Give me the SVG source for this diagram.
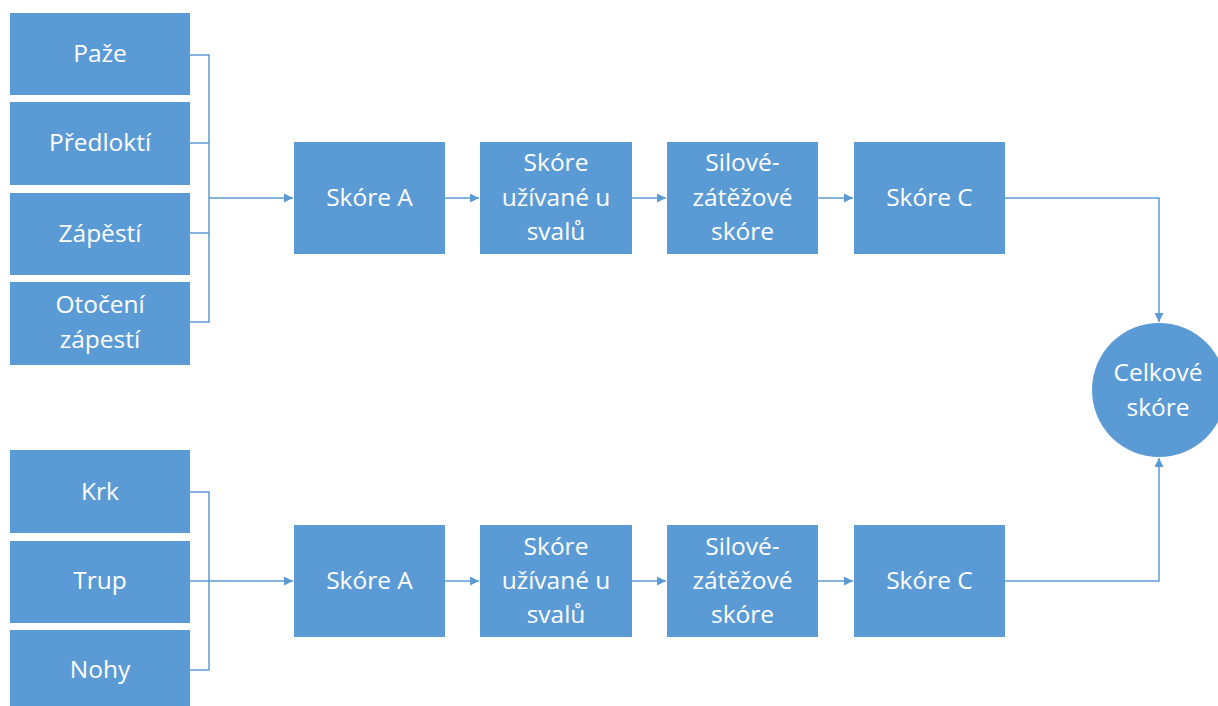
<svg xmlns="http://www.w3.org/2000/svg" width="1218" height="706" viewBox="0 0 1218 706">
<style>
.box{fill:#5B9BD5;}
.t{font-family:"Open Sans","Noto Sans","Liberation Sans",sans-serif;font-size:24.5px;fill:#ffffff;text-anchor:middle;dominant-baseline:central;}
.c{fill:none;stroke:#5B9BD5;stroke-width:1.5;}
</style>
<defs>
<marker id="ar" viewBox="0 0 10 10" refX="10" refY="5" markerWidth="9" markerHeight="9" markerUnits="userSpaceOnUse" orient="auto">
<path d="M0,0 L10,5 L0,10 z" fill="#5B9BD5"/>
</marker>
</defs>
<rect width="1218" height="706" fill="#ffffff"/>
<g id="connectors">
<path class="c" d="M190,55 H209 V322 H190 M190,143 H209 M190,233 H209"/>
<path class="c" d="M209,198 H293" marker-end="url(#ar)"/>
<path class="c" d="M445,198 H479" marker-end="url(#ar)"/>
<path class="c" d="M632,198 H666" marker-end="url(#ar)"/>
<path class="c" d="M818,198 H853" marker-end="url(#ar)"/>
<path class="c" d="M1005,198 H1159 V322" marker-end="url(#ar)"/>
<path class="c" d="M190,492 H209 V670 H190 M190,581 H209"/>
<path class="c" d="M209,581 H293" marker-end="url(#ar)"/>
<path class="c" d="M445,581 H479" marker-end="url(#ar)"/>
<path class="c" d="M632,581 H666" marker-end="url(#ar)"/>
<path class="c" d="M818,581 H853" marker-end="url(#ar)"/>
<path class="c" d="M1005,581 H1159 V458" marker-end="url(#ar)"/>
</g>
<g id="paze"><rect class="box" x="10" y="13" width="180" height="82"/><text class="t" x="100" y="52.5">Paže</text></g>
<g id="predlokti"><rect class="box" x="10" y="102" width="180" height="83"/><text class="t" x="100" y="141.5">Předloktí</text></g>
<g id="zapesti"><rect class="box" x="10" y="193" width="180" height="82"/><text class="t" x="100" y="232.5">Zápěstí</text></g>
<g id="otoceni"><rect class="box" x="10" y="282" width="180" height="83"/><text class="t" x="100" y="303.5">Otočení</text><text class="t" x="100" y="338.5">zápestí</text></g>
<g id="skoreA1"><rect class="box" x="294" y="142" width="151" height="112"/><text class="t" x="369.5" y="196.5">Skóre A</text></g>
<g id="uzivane1"><rect class="box" x="480" y="142" width="152" height="112"/><text class="t" x="556" y="161.5">Skóre</text><text class="t" x="556" y="196.5">užívané u</text><text class="t" x="556" y="230.5">svalů</text></g>
<g id="silove1"><rect class="box" x="667" y="142" width="151" height="112"/><text class="t" x="742.5" y="161.5">Silové-</text><text class="t" x="742.5" y="196.5">zátěžové</text><text class="t" x="742.5" y="230.5">skóre</text></g>
<g id="skoreC1"><rect class="box" x="854" y="142" width="151" height="112"/><text class="t" x="929.5" y="196.5">Skóre C</text></g>
<g id="celkove"><circle class="box" cx="1159" cy="390" r="67"/><text class="t" x="1158" y="371.5">Celkové</text><text class="t" x="1158" y="406.5">skóre</text></g>
<g id="krk"><rect class="box" x="10" y="450" width="180" height="83"/><text class="t" x="100" y="490.5">Krk</text></g>
<g id="trup"><rect class="box" x="10" y="541" width="180" height="82"/><text class="t" x="100" y="579.5">Trup</text></g>
<g id="nohy"><rect class="box" x="10" y="630" width="180" height="82"/><text class="t" x="100" y="668.5">Nohy</text></g>
<g id="skoreA2"><rect class="box" x="294" y="525" width="151" height="112"/><text class="t" x="369.5" y="579.5">Skóre A</text></g>
<g id="uzivane2"><rect class="box" x="480" y="525" width="152" height="112"/><text class="t" x="556" y="545.5">Skóre</text><text class="t" x="556" y="579.5">užívané u</text><text class="t" x="556" y="613.5">svalů</text></g>
<g id="silove2"><rect class="box" x="667" y="525" width="151" height="112"/><text class="t" x="742.5" y="545.5">Silové-</text><text class="t" x="742.5" y="579.5">zátěžové</text><text class="t" x="742.5" y="613.5">skóre</text></g>
<g id="skoreC2"><rect class="box" x="854" y="525" width="151" height="112"/><text class="t" x="929.5" y="579.5">Skóre C</text></g>
</svg>
